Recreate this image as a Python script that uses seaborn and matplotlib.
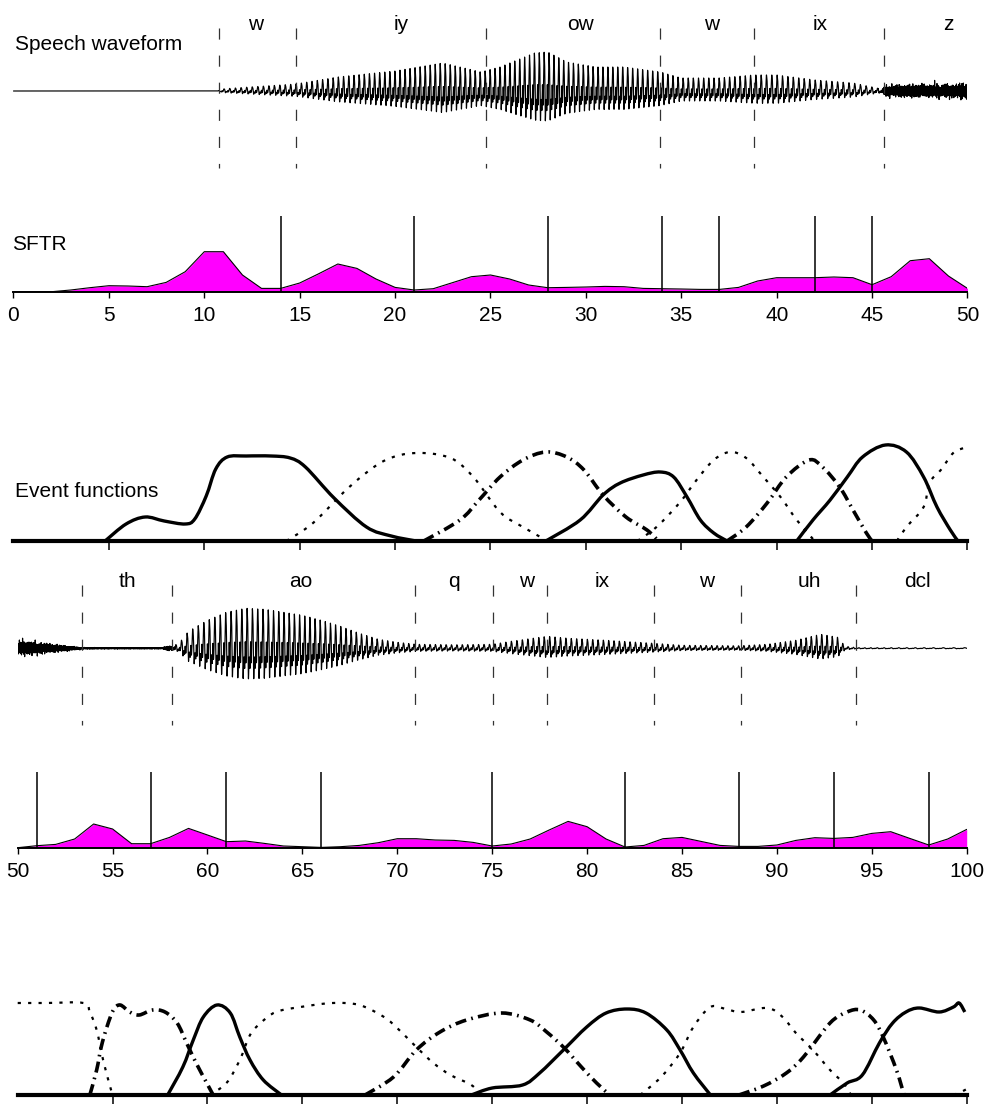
import numpy as np
import pandas as pd
import seaborn as sns
import matplotlib.pyplot as plt
from matplotlib.path import Path
from matplotlib.patches import PathPatch

# ---------------------------------------------------------------- data
# phoneme segmentation (frame index)
top_bounds = [10.75, 14.8, 24.75, 33.9, 38.8, 45.6]
top_phones = ["w", "iy", "ow", "w", "ix", "z"]
top_phone_x = [12.7, 20.3, 29.7, 36.6, 42.3, 49.0]

bottom_bounds = [53.4, 58.15, 70.95, 75.05, 77.9, 83.55, 88.1, 94.15]
bottom_phones = ["th", "ao", "q", "w", "ix", "w", "uh", "dcl"]
bottom_phone_x = [55.8, 64.9, 73.0, 76.8, 80.8, 86.3, 91.7, 97.4]

# waveform amplitude envelopes (voiced part / frication part)
wave_top_x = [0, 10.7, 10.9, 12, 14.8, 17, 20, 22.5, 24.5, 25.5, 27.3, 28, 29,
              30.5, 32, 33.9, 35, 37, 38.8, 40, 42, 44, 45.0, 45.5, 45.7, 47, 49, 50]
wave_top_voiced = [0, 0, 2, 3.5, 7, 14, 20, 28, 19, 24, 38, 39, 29,
                   24, 24, 19, 13, 13, 16, 16, 11, 8, 4, 2, 0, 0, 0, 0]
wave_top_noise = [0, 0, 0, 0, 0, 0, 0, 0, 0, 0, 0, 0, 0,
                  0, 0, 0, 0, 0, 0, 0, 0, 0, 0, 0.5, 4.5, 5, 5.5, 6]

wave_bot_x = [50, 51, 52, 53, 53.4, 55, 57.6, 57.9, 58.15, 58.5, 59, 60, 61, 62,
              63, 64, 65, 66, 67, 68, 69, 70, 71, 73, 75, 76, 77.9, 79, 81,
              83.5, 85, 88, 89.5, 91, 92.3, 93.2, 93.6, 94.2, 97, 100]
wave_bot_voiced = [0, 0, 0, 0, 0, 0, 0, 0, 1, 5, 17, 28, 36, 40,
                   39, 36, 33, 28, 22, 15, 9, 6, 4, 3.5, 4, 7, 12, 10, 8,
                   5, 3, 2.5, 4, 8, 14, 11, 2, 0.6, 0.6, 0.6]
wave_bot_noise = [6, 5, 3, 1.5, 0.6, 0.5, 0.5, 2, 1.5, 0, 0, 0, 0, 0,
                  0, 0, 0, 0, 0, 0, 0, 0, 0, 0, 0, 0, 0, 0, 0,
                  0, 0, 0, 0, 0, 0, 0, 0, 0, 0, 0]

# pitch period contour (frames per glottal cycle)
pitch_top_x = [0, 11, 15, 20, 25, 28, 32, 36, 40, 44, 50]
pitch_top = [0.30, 0.30, 0.28, 0.265, 0.26, 0.255, 0.26, 0.27, 0.28, 0.30, 0.31]
pitch_bot_x = [50, 58, 62, 66, 71, 76, 81, 86, 90, 94, 100]
pitch_bot = [0.30, 0.30, 0.28, 0.27, 0.28, 0.29, 0.28, 0.29, 0.27, 0.28, 0.60]

# SFTR, one value per frame
sftr_top_x = list(range(0, 51))
sftr_top = [0, 0, 0, 1.7, 4, 6, 5.7, 5, 9.3, 20, 40, 40, 16.7, 3.3, 3.3, 8.7,
            18, 27.7, 23.3, 12.7, 4.3, 1.7, 3, 9, 15, 16.7, 12.7, 6.7, 4, 4.3,
            4.7, 5.3, 5, 3.3, 3, 2.7, 2.3, 2.3, 4.3, 10.7, 14, 14, 14, 14.7,
            14, 7, 15, 31, 33, 15.7, 3.3]
sftr_bot_x = list(range(50, 101))
sftr_bot = [0, 2, 3.3, 8.7, 23.7, 18.7, 4, 4, 10.3, 19.3, 12.7, 6, 6.7, 4.3,
            1.7, 1, 0.3, 1, 2.3, 5, 9, 9, 7.7, 7.3, 5.3, 1.7, 3.7, 8.7, 17.7,
            26.3, 21, 8.7, 0.7, 2.3, 9, 10.3, 6.3, 2.3, 1.3, 1.3, 2.7, 7.3, 10,
            9.3, 10.3, 14.3, 16, 9.3, 2.7, 8.7, 18.3]
sftr_marks_top = [14, 21, 28, 34, 37, 42, 45]
sftr_marks_bot = [51, 57, 61, 66, 75, 82, 88, 93, 98]

# event functions, frames 0-50
ev1_x = [4.8, 5.9, 6.9, 7.9, 9.0, 9.5, 10.1, 10.6, 11.2, 12.2, 13.5, 14.5,
         15.3, 16.8, 18.5, 19.8, 21.1]
ev1_y = [0, 17, 24, 20, 17, 22, 45, 72, 84, 85, 85, 83, 74, 43, 14, 5, 0]
ev2_x = [14.3, 15.7, 17.6, 19.4, 21.1, 22.9, 24.1, 25.5, 26.7, 28.0]
ev2_y = [0, 18, 54, 80, 88, 83, 64, 29, 14, 0]
ev3_x = [21.5, 23.4, 24.4, 25.5, 26.7, 27.9, 29.0, 29.9, 30.9, 32.1, 33.2, 33.8]
ev3_y = [0, 21, 41, 64, 81, 89, 84, 71, 46, 24, 11, 0]
ev4_x = [27.9, 29.7, 30.9, 31.8, 33.0, 33.9, 34.6, 35.3, 36.0, 36.7, 37.4]
ev4_y = [0, 21, 46, 58, 66, 69, 64, 44, 21, 8, 0]
ev5_x = [32.7, 33.7, 34.9, 35.8, 36.7, 37.55, 38.4, 39.3, 40.2, 41.05, 41.9]
ev5_y = [0, 14, 38, 61, 81, 89, 83, 64, 44, 21, 2]
ev6_x = [37.4, 38.4, 39.5, 40.5, 41.7, 42.4, 43.3, 44.0, 44.7, 45.0]
ev6_y = [0, 14, 38, 64, 81, 74, 54, 31, 8, 0]
ev7_x = [41.05, 41.9, 42.8, 43.7, 44.5, 45.7, 46.8, 47.7, 48.4, 49.1, 49.5]
ev7_y = [0, 21, 41, 64, 84, 96, 89, 64, 34, 11, 0]
ev8_x = [46.3, 46.8, 47.7, 48.0, 48.6, 49.25, 49.8]
ev8_y = [0, 14, 34, 58, 71, 88, 93]

# event functions, frames 50-100
ev9_x = [50, 51.5, 53.46, 53.8, 54.16, 54.5, 54.86, 55.0]
ev9_y = [92, 92, 92, 83, 65, 35, 9, 0]
ev10_x = [53.8, 54.16, 54.4, 54.7, 55.04, 55.4, 55.9, 56.4, 57.1, 57.76, 58.4,
          58.9, 59.4, 59.96, 60.3]
ev10_y = [0, 25, 48, 68, 85, 90, 83, 80, 85, 83, 72, 52, 32, 12, 0]
ev11_x = [57.9, 58.7, 59.25, 59.78, 60.5, 61.2, 61.7, 62.24, 62.94, 63.9]
ev11_y = [0, 28, 55, 78, 90, 82, 58, 35, 15, 0]
ev12_x = [60.1, 61.0, 61.7, 62.24, 62.8, 63.6, 64.9, 66.6, 68.0, 69.3, 70.1,
          71.0, 71.9, 72.8, 73.9, 74.4]
ev12_y = [0, 12, 35, 60, 72, 83, 88, 92, 90, 78, 65, 48, 32, 20, 10, 0]
ev13_x = [68.3, 69.8, 71.0, 72.25, 73.65, 75.5, 77.0, 77.87, 78.8, 79.7, 80.5, 81.2]
ev13_y = [0, 18, 45, 63, 75, 82, 75, 63, 47, 28, 12, 0]
ev14_x = [73.9, 75.0, 76.6, 77.5, 78.75, 79.98, 81.0, 82.1, 83.1, 84.2,
          84.9, 85.6, 86.5]
ev14_y = [0, 7, 10, 22, 45, 68, 82, 86, 82, 65, 45, 22, 0]
ev15_x = [82.8, 83.9, 84.9, 85.6, 86.5, 87.3, 88.1, 89.5, 90.3, 91.0, 91.9,
          92.8, 93.5, 93.9]
ev15_y = [0, 18, 42, 68, 88, 86, 83, 87, 78, 62, 45, 25, 12, 0]
ev16_x = [88.0, 89.3, 90.5, 91.4, 92.8, 93.7, 94.4, 95.1, 95.6, 96.3, 96.7]
ev16_y = [0, 9, 22, 38, 72, 83, 85, 75, 58, 25, 0]
ev17_x = [92.8, 93.7, 94.5, 95.4, 96.1, 96.8, 97.5, 98.55, 99.3, 99.6, 99.9]
ev17_y = [0, 12, 20, 52, 72, 83, 87, 83, 88, 92, 83]
ev18_x = [99.3, 99.7, 100]
ev18_y = [0, 3, 6]

top_events = [(ev1_x, ev1_y, "solid"), (ev2_x, ev2_y, "dot"), (ev3_x, ev3_y, "dashdot"),
              (ev4_x, ev4_y, "solid"), (ev5_x, ev5_y, "dot"), (ev6_x, ev6_y, "dashdot"),
              (ev7_x, ev7_y, "solid"), (ev8_x, ev8_y, "dot")]
bottom_events = [(ev9_x, ev9_y, "dot"), (ev10_x, ev10_y, "dashdot"), (ev11_x, ev11_y, "solid"),
                 (ev12_x, ev12_y, "dot"), (ev13_x, ev13_y, "dashdot"), (ev14_x, ev14_y, "solid"),
                 (ev15_x, ev15_y, "dot"), (ev16_x, ev16_y, "dashdot"), (ev17_x, ev17_y, "solid"),
                 (ev18_x, ev18_y, "dot")]

# ---------------------------------------------------------------- style
sns.set_style("white")
plt.rcParams["font.family"] = ["Liberation Sans", "DejaVu Sans"]
plt.rcParams["lines.scale_dashes"] = False
plt.rcParams["text.color"] = "black"
plt.rcParams["xtick.color"] = "black"
plt.rcParams["xtick.labelcolor"] = "black"
FS = 15

W, H = 987, 1104
fig = plt.figure(figsize=(W / 100, H / 100), dpi=100)


def panel(x0, x1, ytop, ybot):
    ax = fig.add_axes([x0 / W, 1 - ybot / H, (x1 - x0) / W, (ybot - ytop) / H])
    ax.set_facecolor("none")
    return ax


# carrier shapes for the waveform trace
def _pulse(ph):
    return (np.sin(ph) + 0.75 * np.sin(2 * ph + 0.9) + 0.45 * np.sin(3 * ph + 2.1)
            + 0.3 * np.sin(4 * ph + 0.4) + 0.15 * np.sin(6 * ph + 1.3))


_grid = _pulse(np.linspace(0, 2 * np.pi, 2000))
_sign = -1.0 if -_grid.min() > _grid.max() else 1.0
_norm = max(_grid.max(), -_grid.min())


def glottal(t, pitch_x, pitch_p):
    inst = 1.0 / np.interp(t, pitch_x, pitch_p)
    ph = 2 * np.pi * np.concatenate([[0], np.cumsum(0.5 * (inst[1:] + inst[:-1]) * np.diff(t))])
    return _sign * _pulse(ph) / _norm


def hiss(t):
    freqs = [23.7, 31.3, 41.9, 57.1, 67.3, 83.9, 97.1, 113.7, 131.9]
    phases = [0.3, 1.7, 2.9, 4.1, 0.8, 5.2, 3.3, 1.1, 2.4]
    s = sum(np.sin(2 * np.pi * f * t + p) for f, p in zip(freqs, phases))
    return s / 4.0


def waveform_panel(ax, x0, x1, env_x, env_v, env_n, pitch_x, pitch_p,
                   bounds, phones, phone_x):
    t = np.linspace(x0, x1, int((x1 - x0) * 300) + 1)
    y = (np.interp(t, env_x, env_v) * glottal(t, pitch_x, pitch_p)
         + np.interp(t, env_x, env_n) * hiss(t))
    df = pd.DataFrame({"t": t, "y": y})
    sns.lineplot(data=df, x="t", y="y", ax=ax, color="black", lw=0.85,
                 estimator=None, sort=False)
    for b in bounds:
        ax.plot([b, b], [63, -77], color="#333333", lw=0.9, dashes=(8, 11.5))
    for p, px in zip(phones, phone_x):
        ax.text(px, 61, p, ha="center", va="baseline", fontsize=FS)
    ax.set_xlim(x0, x1)
    ax.set_ylim(-85, 85)
    ax.axis("off")


def sftr_panel(ax, xs, vals, marks, x0, x1):
    ax.fill_between(xs, 0, vals, color="#FF00FF", lw=0)
    sns.lineplot(x=xs, y=vals, ax=ax, color="black", lw=0.8, estimator=None)
    ax.vlines(marks, 0, 75.5, color="black", lw=1.1)
    ax.set_xlim(x0, x1)
    ax.set_ylim(0, 85.7)
    ax.set_xticks(np.arange(x0, x1 + 1, 5))
    ax.set_xticklabels([str(v) for v in range(x0, x1 + 1, 5)])
    ax.set_yticks([])
    ax.set_xlabel("")
    ax.set_ylabel("")
    for s in ("left", "right", "top"):
        ax.spines[s].set_visible(False)
    ax.spines["bottom"].set_linewidth(1.4)
    ax.spines["bottom"].set_color("black")
    ax.tick_params(axis="x", direction="out", length=4, width=1.0, color="black",
                   labelsize=FS, pad=6, bottom=True, labelcolor="black")


STYLES = {"solid": dict(lw=2.4),
          "dot": dict(lw=1.6, dashes=(2.3, 5.2)),
          "dashdot": dict(lw=2.6, dashes=(8.0, 3.8, 1.2, 3.8))}


def smooth_path(xs, ys):
    # cubic Bezier segments passing through every listed point
    P = np.column_stack([xs, ys]).astype(float)
    n = len(P)
    verts, codes = [P[0]], [Path.MOVETO]
    for i in range(n - 1):
        p0 = P[i - 1] if i > 0 else P[i]
        p3 = P[i + 2] if i + 2 < n else P[i + 1]
        verts += [P[i] + (P[i + 1] - p0) / 6, P[i + 1] - (p3 - P[i]) / 6, P[i + 1]]
        codes += [Path.CURVE4] * 3
    return Path(verts, codes)


def event_panel(ax, curves, x0, x1, ticks):
    for xs, ys, st in curves:
        patch = PathPatch(smooth_path(xs, ys), fill=False, edgecolor="black",
                          lw=STYLES[st]["lw"], joinstyle="round", capstyle="butt",
                          clip_on=False)
        if "dashes" in STYLES[st]:
            patch.set_linestyle((0, STYLES[st]["dashes"]))
        ax.add_patch(patch)
    ax.set_xlim(x0, x1)
    ax.set_ylim(0, 111)
    ax.set_xticks(ticks)
    ax.set_xticklabels([])
    ax.set_yticks([])
    for s in ("left", "right", "top"):
        ax.spines[s].set_visible(False)
    ax.spines["bottom"].set_linewidth(3.0)
    ax.spines["bottom"].set_color("black")
    ax.spines["bottom"].set_zorder(5)
    ax.tick_params(axis="x", direction="out", length=6.5, width=1.1, color="black",
                   bottom=True)


# ---------------------------------------------------------------- frames 0-50
TX0, TX1 = 13.5, 967.5
ax_w1 = panel(TX0, TX1, 6, 176)
waveform_panel(ax_w1, 0, 50, wave_top_x, wave_top_voiced, wave_top_noise,
               pitch_top_x, pitch_top, top_bounds, top_phones, top_phone_x)
ax_w1.text(0.1, 41, "Speech waveform", ha="left", va="baseline", fontsize=FS)

ax_s1 = panel(TX0, TX1, 206, 291.7)
sftr_panel(ax_s1, sftr_top_x, sftr_top, sftr_marks_top, 0, 50)
ax_s1.text(-0.08, 41.7, "SFTR", ha="left", va="baseline", fontsize=FS, clip_on=False)

ax_e1 = panel(TX0, TX1, 430, 541)
event_panel(ax_e1, top_events, 0, 50, list(range(5, 51, 5)))
ax_e1.text(0.08, 44, "Event functions", ha="left", va="baseline", fontsize=FS)

# ---------------------------------------------------------------- frames 50-100
BX0, BX1 = 17.7, 966.7
ax_w2 = panel(BX0, BX1, 563.3, 733.3)
waveform_panel(ax_w2, 50, 100, wave_bot_x, wave_bot_voiced, wave_bot_noise,
               pitch_bot_x, pitch_bot, bottom_bounds, bottom_phones, bottom_phone_x)

ax_s2 = panel(BX0, BX1, 762, 847.7)
sftr_panel(ax_s2, sftr_bot_x, sftr_bot, sftr_marks_bot, 50, 100)

ax_e2 = panel(BX0, BX1, 984, 1095)
event_panel(ax_e2, bottom_events, 50, 100, list(range(55, 101, 5)))

fig.savefig("out.png", dpi=100)
